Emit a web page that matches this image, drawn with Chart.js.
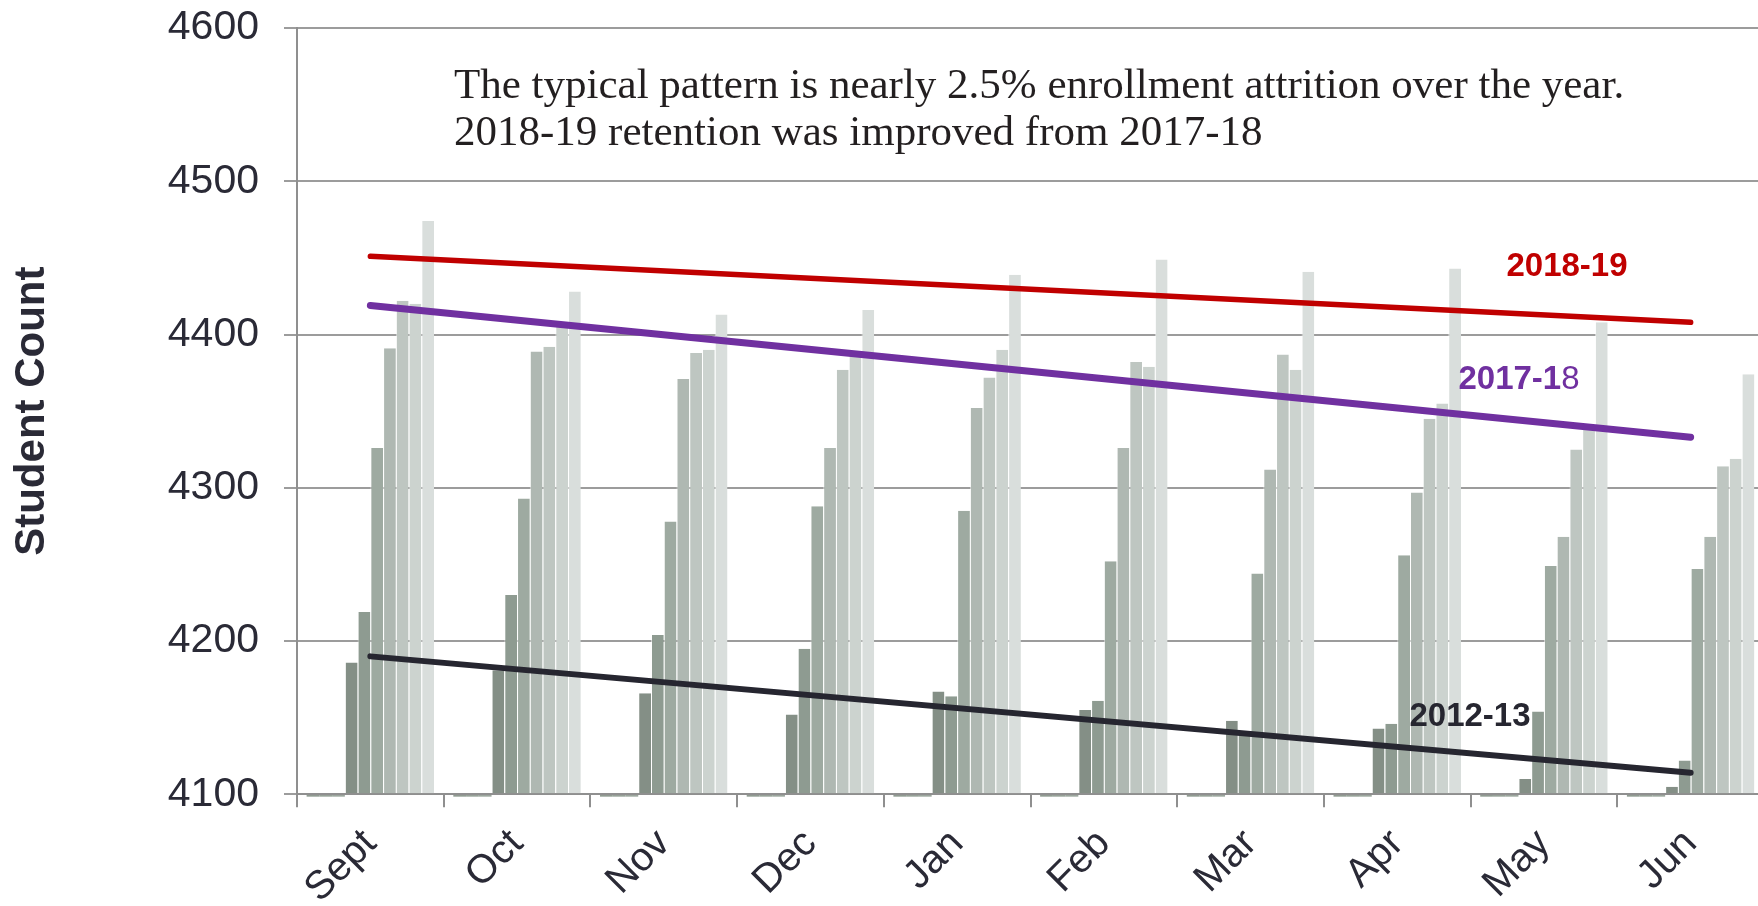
<!DOCTYPE html>
<html><head><meta charset="utf-8">
<script src="https://cdn.jsdelivr.net/npm/chart.js@4.4.1/dist/chart.umd.min.js"></script>
<style>
html,body{margin:0;padding:0;width:1758px;height:906px;overflow:hidden;background:#fff;}
#wrap{position:absolute;left:0;top:0;width:1764px;height:906px;}
</style></head><body>
<div id="wrap"><canvas id="c"></canvas></div>
<script>
// ---- data ----
const months = ['Sept','Oct','Nov','Dec','Jan','Feb','Mar','Apr','May','Jun'];
const seasons = ['2009-10','2010-11','2011-12','2012-13','2013-14','2014-15','2015-16','2016-17','2017-18','2018-19'];
// first three seasons sit below the 4100 axis floor (shown only as baseline dashes)
const s2009 = [4098.5,4098.5,4098.5,4098.5,4098.5,4098.5,4098.5,4098.5,4098.5,4098.5];
const s2010 = [4098.5,4098.5,4098.5,4098.5,4098.5,4098.5,4098.5,4098.5,4098.5,4098.5];
const s2011 = [4098.5,4098.5,4098.5,4098.5,4098.5,4098.5,4098.5,4098.5,4098.5,4098.5];
const s2012 = [4186,4181,4166,4152,4167,4155,4148,4143,4110,4105];
const s2013 = [4219,4230,4204,4195,4164,4161,4140,4146,4154,4122];
const s2014 = [4326,4293,4278,4288,4285,4252,4244,4256,4249,4247];
const s2015 = [4391,4389,4371,4326,4352,4326,4312,4297,4268,4268];
const s2016 = [4422,4392,4388,4377,4372,4382,4387,4345,4325,4314];
const s2017 = [4420,4407,4390,4386,4390,4379,4377,4355,4340,4319];
const s2018 = [4474,4428,4413,4416,4439,4449,4441,4443,4408,4374];
// trend lines (start Sept, end Jun)
const trend2018 = [4451,null,null,null,null,null,null,null,null,4408];
const trend2017 = [4419,null,null,null,null,null,null,null,null,4333];
const trend2012 = [4190,null,null,null,null,null,null,null,null,4114];
const yMin = 4100, yMax = 4600, yStep = 100;
const noteLines = ['The typical pattern is nearly 2.5% enrollment attrition over the year.','2018-19 retention was improved from 2017-18'];

const barSeries = [s2009,s2010,s2011,s2012,s2013,s2014,s2015,s2016,s2017,s2018];
const barColors = ['#6b7a6d','#738275','#7a897d','#848f86','#8e9b91','#9eaaa1','#afb8b2','#bec6c1','#ccd3cf','#d9dedc'];
const textColor = '#2a2a36';
const sans = '"Liberation Sans", Arial, sans-serif';

const barDatasets = barSeries.map((d,i)=>({
  type:'bar', label: seasons[i], data: d, backgroundColor: barColors[i],
  borderColor: 'rgba(255,255,255,0.55)',
  borderWidth: i < 3 ? 0 : {left:1, right:0, top:0, bottom:0},
  base: yMin, order: 2, clip: i < 3 ? 4 : 0
}));
const lineDs = (d,color,w)=>({type:'line', data:d, borderColor:color, borderWidth:w, pointRadius:0,
  spanGaps:true, borderCapStyle:'round', fill:false, order:0, tension:0});

const notesPlugin = {
  id:'notes',
  afterDatasetsDraw(chart){
    const ctx = chart.ctx;
    ctx.save();
    ctx.fillStyle = '#231f20';
    ctx.font = '43px "Liberation Serif", "Times New Roman", serif';
    ctx.textAlign = 'left'; ctx.textBaseline = 'alphabetic';
    ctx.fillText(noteLines[0], 454, 98);
    ctx.fillText(noteLines[1], 454, 145);
    ctx.textBaseline = 'middle';
    ctx.font = 'bold 33px ' + sans;
    ctx.textAlign = 'center';
    ctx.fillStyle = '#c00000'; ctx.fillText('2018-19', 1567, 267);
    ctx.fillStyle = '#262630'; ctx.fillText('2012-13', 1470, 717);
    // 2017-18 with plain final digit
    const a = '2017-1', b = '8';
    ctx.font = 'bold 33px ' + sans; const wa = ctx.measureText(a).width;
    ctx.font = '33px ' + sans; const wb = ctx.measureText(b).width;
    const x0 = 1519 - (wa+wb)/2;
    ctx.textAlign = 'left'; ctx.fillStyle = '#7030a0';
    ctx.font = 'bold 33px ' + sans; ctx.fillText(a, x0, 380);
    ctx.font = '33px ' + sans; ctx.fillText(b, x0+wa, 380);
    ctx.restore();
  }
};

new Chart(document.getElementById('c'), {
  type:'bar',
  data:{ labels: months, datasets:[
    lineDs(trend2018,'#c00000',5.5), lineDs(trend2017,'#7030a0',7), lineDs(trend2012,'#262630',6),
    ...barDatasets ]},
  options:{
    responsive:true, maintainAspectRatio:false, animation:false,
    layout:{padding:{left:0,right:0,top:28,bottom:0}},
    plugins:{legend:{display:false}, tooltip:{enabled:false}},
    datasets:{bar:{categoryPercentage:0.869, barPercentage:1.0}},
    scales:{
      x:{ offset:true,
        grid:{offset:true, drawOnChartArea:false, drawTicks:true, tickLength:13, color:'#8f8f8f', lineWidth:2},
        border:{color:'#8f8f8f', width:2},
        ticks:{minRotation:45, maxRotation:45, padding:13, color:textColor, font:{family:sans, size:40}},
        afterFit(s){ s.height = 111.7; s.paddingLeft = 0; s.paddingRight = 0; }
      },
      y:{ min:yMin, max:yMax,
        ticks:{stepSize:yStep, padding:25, color:textColor, font:{family:sans, size:41}, callback:v=>String(v)},
        grid:{color:'#9c9c9c', lineWidth:2, tickLength:13, drawTicks:true},
        border:{color:'#8f8f8f', width:2},
        title:{display:true, text:'Student Count', color:textColor, font:{family:sans, size:42, weight:'bold'}, padding:{top:7,bottom:0}},
        afterFit(s){ s.width = 297; s.paddingTop = 0; s.paddingBottom = 0; }
      }
    }
  },
  plugins:[notesPlugin]
});
</script></body></html>
